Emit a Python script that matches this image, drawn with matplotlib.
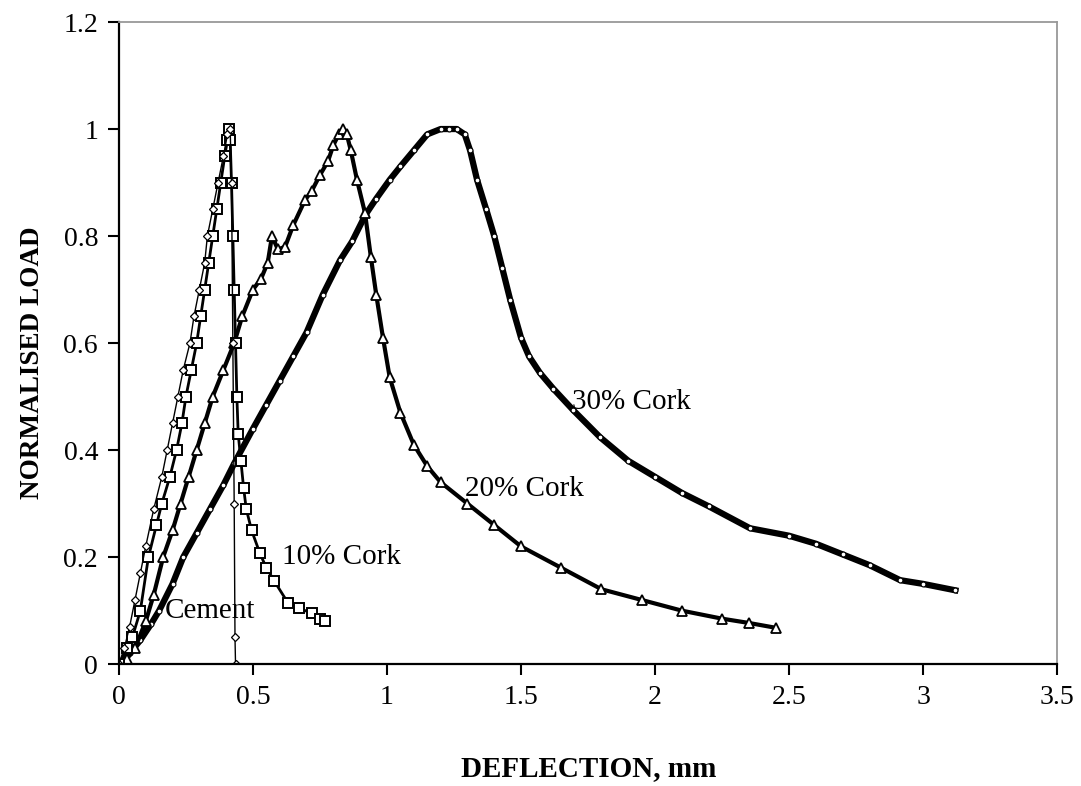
import matplotlib
matplotlib.use('Agg')
import matplotlib.pyplot as plt

plt.rcParams['font.family'] = ['Liberation Serif', 'DejaVu Serif']

# deflection (mm) / normalised load
cement_x = [0, 0.02, 0.04, 0.06, 0.08, 0.10, 0.13, 0.16, 0.18, 0.20, 0.22, 0.24, 0.265, 0.28, 0.30,
            0.32, 0.33, 0.35, 0.37, 0.39, 0.405, 0.415, 0.42, 0.425, 0.43, 0.433, 0.435]
cement_y = [0, 0.03, 0.07, 0.12, 0.17, 0.22, 0.29, 0.35, 0.40, 0.45, 0.50, 0.55, 0.60, 0.65, 0.70,
            0.75, 0.80, 0.85, 0.90, 0.95, 0.99, 1.0, 0.9, 0.6, 0.3, 0.05, 0.0]

cork10_x = [0, 0.03, 0.05, 0.08, 0.11, 0.14, 0.16, 0.19, 0.215, 0.235, 0.25, 0.27, 0.29, 0.305, 0.32,
            0.335, 0.35, 0.365, 0.38, 0.395, 0.405, 0.41, 0.415, 0.42, 0.425, 0.43, 0.435, 0.44, 0.445,
            0.455, 0.465, 0.475, 0.495, 0.526, 0.55, 0.58, 0.63, 0.67, 0.72, 0.75, 0.77]
cork10_y = [0, 0.03, 0.05, 0.10, 0.20, 0.26, 0.30, 0.35, 0.40, 0.45, 0.50, 0.55, 0.60, 0.65, 0.70,
            0.75, 0.80, 0.85, 0.90, 0.95, 0.98, 1.0, 0.98, 0.90, 0.80, 0.70, 0.60, 0.50, 0.43,
            0.38, 0.33, 0.29, 0.25, 0.207, 0.18, 0.155, 0.115, 0.105, 0.095, 0.085, 0.08]

cork20_x = [0, 0.03, 0.06, 0.10, 0.13, 0.165, 0.20, 0.23, 0.26, 0.29, 0.32, 0.35, 0.39, 0.43, 0.46,
            0.50, 0.53, 0.555, 0.571, 0.593, 0.62, 0.65, 0.694, 0.72, 0.75, 0.78, 0.80, 0.82, 0.836,
            0.85, 0.865, 0.888, 0.918, 0.94, 0.96, 0.985, 1.01, 1.05, 1.10, 1.15, 1.20, 1.30, 1.40,
            1.50, 1.65, 1.80, 1.95, 2.10, 2.25, 2.35, 2.45]
cork20_y = [0, 0.01, 0.03, 0.08, 0.13, 0.20, 0.25, 0.30, 0.35, 0.40, 0.45, 0.50, 0.55, 0.60, 0.65,
            0.70, 0.72, 0.75, 0.80, 0.775, 0.78, 0.82, 0.867, 0.885, 0.914, 0.94, 0.97, 0.99, 1.0,
            0.99, 0.96, 0.905, 0.843, 0.76, 0.69, 0.61, 0.536, 0.47, 0.41, 0.37, 0.34, 0.30, 0.26,
            0.22, 0.18, 0.14, 0.12, 0.10, 0.085, 0.077, 0.068]

cork30_x = [0, 0.04, 0.08, 0.12, 0.15, 0.20, 0.24, 0.29, 0.34, 0.39, 0.43, 0.50, 0.55, 0.60, 0.65,
            0.70, 0.76, 0.825, 0.87, 0.92, 0.96, 1.01, 1.05, 1.10, 1.15, 1.20, 1.23, 1.26, 1.29, 1.31,
            1.336, 1.37, 1.40, 1.43, 1.46, 1.50, 1.53, 1.571, 1.62, 1.694, 1.795, 1.90, 2.0, 2.1, 2.2,
            2.354, 2.5, 2.6, 2.7, 2.8, 2.914, 3.0, 3.12]
cork30_y = [0, 0.02, 0.045, 0.075, 0.10, 0.15, 0.20, 0.245, 0.29, 0.335, 0.375, 0.44, 0.485, 0.53, 0.575,
            0.62, 0.69, 0.755, 0.79, 0.84, 0.87, 0.905, 0.93, 0.96, 0.99, 1.0, 1.0, 1.0, 0.99, 0.96,
            0.905, 0.85, 0.80, 0.74, 0.68, 0.61, 0.575, 0.544, 0.515, 0.475, 0.424, 0.38, 0.35, 0.32, 0.295,
            0.254, 0.24, 0.225, 0.205, 0.185, 0.157, 0.15, 0.138]

labels = ['Cement', '10% Cork', '20% Cork', '30% Cork']
label_pos = [(0.17, 0.10), (0.61, 0.20), (1.29, 0.327), (1.69, 0.49)]

fig = plt.figure(figsize=(10.81, 7.86), dpi=100)
ax = fig.add_axes([0.110, 0.155, 0.868, 0.817])

ax.plot(cork30_x, cork30_y, color='black', lw=4.5, marker='o', ms=3.5, mfc='white', mec='black', mew=0.8)
ax.plot(cork20_x, cork20_y, color='black', lw=3, marker='^', ms=6.5, mfc='white', mec='black', mew=1.3)
ax.plot(cork10_x, cork10_y, color='black', lw=2, marker='s', ms=6.5, mfc='white', mec='black', mew=1.4)
ax.plot(cement_x, cement_y, color='black', lw=1, marker='D', ms=4.5, mfc='white', mec='black', mew=0.9)

for lab, (lx, ly) in zip(labels, label_pos):
    ax.text(lx, ly, lab, fontsize=21, va='center', ha='left')

ax.set_xlim(0, 3.5)
ax.set_ylim(0, 1.2)
ax.set_xticks([0, 0.5, 1, 1.5, 2, 2.5, 3, 3.5])
ax.set_xticklabels(['0', '0.5', '1', '1.5', '2', '2.5', '3', '3.5'])
ax.set_yticks([0, 0.2, 0.4, 0.6, 0.8, 1, 1.2])
ax.set_yticklabels(['0', '0.2', '0.4', '0.6', '0.8', '1', '1.2'])
ax.tick_params(direction='out', length=8, width=1.5, labelsize=20, pad=7)

for s in ['left', 'bottom']:
    ax.spines[s].set_color('black')
    ax.spines[s].set_linewidth(1.6)
for s in ['top', 'right']:
    ax.spines[s].set_color('#999999')
    ax.spines[s].set_linewidth(1.3)

ax.set_xlabel('DEFLECTION, mm', fontsize=21, fontweight='bold')
ax.set_ylabel('NORMALISED LOAD', fontsize=19.5, fontweight='bold')
ax.xaxis.set_label_coords(0.501, -0.142)
ax.yaxis.set_label_coords(-0.079, 0.47)

fig.savefig('out.png', dpi=100)
